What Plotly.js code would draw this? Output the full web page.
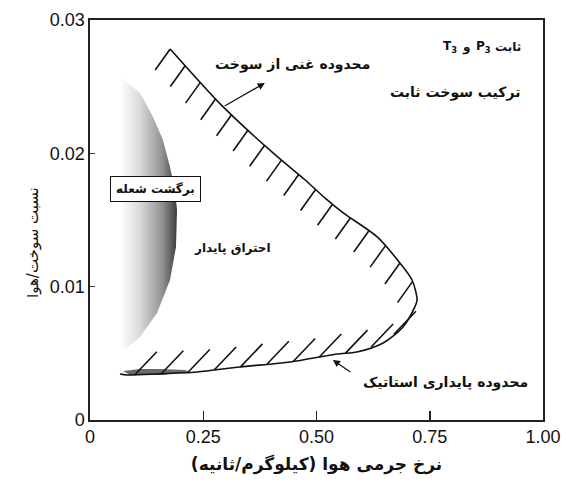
<!DOCTYPE html>
<html>
<head>
<meta charset="utf-8">
<script src="https://cdn.plot.ly/plotly-3.0.1.min.js"></script>
<style>body{margin:0;background:#fff;}#chart{width:566px;height:488px;}</style>
</head>
<body>
<div id="chart"></div>
<script>
// Stability loop (air mass flow, fuel/air ratio), from upper-left end, around the nose, to lower-left end
var loopX = [0.177, 0.294, 0.404, 0.475, 0.521, 0.559, 0.634, 0.684, 0.711, 0.722, 0.717, 0.691, 0.647, 0.589, 0.545, 0.442, 0.331, 0.236, 0.148, 0.082, 0.066];
var loopY = [0.02783, 0.02348, 0.02003, 0.01800, 0.01658, 0.01553, 0.01373, 0.01178, 0.01050, 0.00900, 0.00848, 0.00698, 0.00578, 0.00510, 0.00495, 0.00435, 0.00398, 0.00360, 0.00345, 0.00338, 0.00345];
var noseIndex = 9;

// Flashback (blow-back) region
var flashX = [0.0706, 0.1104, 0.1391, 0.1611, 0.1766, 0.1876, 0.1921, 0.1898, 0.1766, 0.1479, 0.1104, 0.0817, 0.0706, 0.0684, 0.0662, 0.0662, 0.0684, 0.0706];
var flashY = [0.02565, 0.02453, 0.02273, 0.02100, 0.01898, 0.01725, 0.01575, 0.01298, 0.01050, 0.00803, 0.00623, 0.00540, 0.00563, 0.00900, 0.01650, 0.02250, 0.02475, 0.02565];
// Dark sliver under the loop
var sliverX = [0.0728, 0.1104, 0.1545, 0.2097, 0.2208, 0.1545, 0.0883, 0.0728];
var sliverY = [0.003675, 0.003825, 0.003825, 0.00375, 0.0036, 0.003375, 0.003375, 0.003675];

var xTickVals = [0, 0.25, 0.5, 0.75, 1.0];
var xTickText = ['0', '0.25', '0.50', '0.75', '1.00'];
var yTickVals = [0, 0.01, 0.02, 0.03];
var yTickText = ['0', '0.01', '0.02', '0.03'];

var W = 566, H = 488, ML = 90, MR = 23, MT = 20, MB = 68;
var xMax = 1.0, yMax = 0.03;
var pw = W - ML - MR, ph = H - MT - MB;
function toPx(x, y) { return [ML + x / xMax * pw, MT + ph - y / yMax * ph]; }
function toData(px, py) { return [(px - ML) / pw * xMax, (MT + ph - py) / ph * yMax]; }

// hatch ticks sampled along a polyline at a fixed pixel spacing
function hatches(xs, ys, start, step, count, dpx, dpy) {
  var pts = [];
  for (var i = 0; i < xs.length; i++) pts.push(toPx(xs[i], ys[i]));
  var hx = [], hy = [];
  var target = start, acc = 0, n = 0;
  for (var k = 0; k < pts.length - 1 && n < count; k++) {
    var a = pts[k], b = pts[k + 1];
    var seg = Math.hypot(b[0] - a[0], b[1] - a[1]);
    while (acc + seg >= target && n < count) {
      var t = (target - acc) / seg;
      var px = a[0] + t * (b[0] - a[0]), py = a[1] + t * (b[1] - a[1]);
      var p0 = toData(px, py), p1 = toData(px + dpx, py + dpy);
      hx.push(p0[0], p1[0], null); hy.push(p0[1], p1[1], null);
      target += step; n++;
    }
    acc += seg;
  }
  return {x: hx, y: hy};
}
// upper branch: from top end towards nose, ticks go down-left
var up = hatches(loopX.slice(0, noseIndex + 1), loopY.slice(0, noseIndex + 1), 0, 22.5, 17, -15, 21);
// lower branch: left end to nose, ticks go up-right
var low = hatches(loopX.slice(noseIndex).reverse(), loopY.slice(noseIndex).reverse(), 15, 26.5, 11, 22, -23);

var traces = [
  {x: flashX, y: flashY, mode: 'lines', fill: 'toself', line: {width: 0, color: 'rgba(0,0,0,0)'},
   fillgradient: {type: 'horizontal', colorscale: [[0, '#ffffff'], [0.35, '#dadada'], [0.75, '#909090'], [1, '#3c3c3c']]},
   hoverinfo: 'skip', showlegend: false},
  {x: sliverX, y: sliverY, mode: 'lines', fill: 'toself', fillcolor: '#6a6a6a', line: {width: 0, color: 'rgba(0,0,0,0)'}, hoverinfo: 'skip', showlegend: false},
  {x: loopX, y: loopY, mode: 'lines', line: {color: '#111', width: 1.6, shape: 'spline', smoothing: 0.8}, showlegend: false},
  {x: up.x, y: up.y, mode: 'lines', line: {color: '#111', width: 1.6}, connectgaps: false, showlegend: false},
  {x: low.x, y: low.y, mode: 'lines', line: {color: '#111', width: 1.6}, connectgaps: false, showlegend: false}
];

var fa = 'DejaVu Sans, sans-serif';
function px2x(px) { return (px - ML) / pw * xMax; }
function py2y(py) { return (MT + ph - py) / ph * yMax; }
var tf = {family: fa, size: 12, color: '#111'};
var layout = {
  width: W, height: H,
  margin: {l: ML, r: MR, t: MT, b: MB},
  paper_bgcolor: '#fff', plot_bgcolor: '#fff',
  showlegend: false,
  xaxis: {range: [0, xMax], tickvals: xTickVals, ticktext: xTickText, ticks: 'inside', ticklen: 9, tickwidth: 1.5, tickcolor: '#222',
    showline: true, mirror: true, linecolor: '#222', linewidth: 1.6, showgrid: false, zeroline: false,
    tickfont: {family: 'Liberation Sans, Arial, sans-serif', size: 18, color: '#111'},
    title: {text: '<b>نرخ جرمی هوا (کیلوگرم/ثانیه)</b>', font: {family: fa, size: 17, color: '#111'}, standoff: 12}},
  yaxis: {range: [0, yMax], tickvals: yTickVals, ticktext: yTickText, ticks: 'inside', ticklen: 5, tickwidth: 1.2, tickcolor: '#444',
    showline: true, mirror: true, linecolor: '#222', linewidth: 1.6, showgrid: false, zeroline: false,
    tickfont: {family: 'Liberation Sans, Arial, sans-serif', size: 18, color: '#111'}},
  annotations: [
    {x: (22 - ML) / pw, y: (MT + ph - 243) / ph, xref: 'paper', yref: 'paper', text: 'نسبت سوخت/هوا', textangle: -90, showarrow: false, font: {family: fa, size: 15, color: '#111'}},
    {x: 0.448, y: 0.02663, xref: 'x', yref: 'y', text: '<b>محدوده غنی از سوخت</b>', showarrow: false, font: {family: fa, size: 14, color: '#111'}},
    {x: 0.386, y: 0.02528, ax: 0.294, ay: 0.02348, xref: 'x', yref: 'y', axref: 'x', ayref: 'y', text: '', showarrow: true, arrowhead: 2, arrowsize: 1.2, arrowwidth: 1.2, arrowcolor: '#111'},
    // "T3 و P3 ثابت" built from pieces, left to right
    {x: px2x(441), y: py2y(47), xref: 'x', yref: 'y', xanchor: 'left', text: '<b>T<sub>3</sub></b>', showarrow: false, font: tf},
    {x: px2x(466), y: py2y(47), xref: 'x', yref: 'y', xanchor: 'center', text: '<b>و</b>', showarrow: false, font: tf},
    {x: px2x(474), y: py2y(47), xref: 'x', yref: 'y', xanchor: 'left', text: '<b>P<sub>3</sub></b>', showarrow: false, font: tf},
    {x: px2x(523), y: py2y(47), xref: 'x', yref: 'y', xanchor: 'right', text: '<b>ثابت</b>', showarrow: false, font: tf},
    {x: 0.954, y: 0.0246, xref: 'x', yref: 'y', xanchor: 'right', text: '<b>ترکیب سوخت ثابت</b>', showarrow: false, font: {family: fa, size: 14, color: '#111'}},
    {x: 0.1435, y: 0.01733, xref: 'x', yref: 'y', text: '<b>برگشت شعله</b>', showarrow: false, bgcolor: '#fff', bordercolor: '#111', borderwidth: 1, borderpad: 5, font: {family: fa, size: 12, color: '#111'}},
    {x: px2x(232), y: 0.0129, xref: 'x', yref: 'y', text: '<b>احتراق پایدار</b>', showarrow: false, font: {family: fa, size: 12, color: '#111'}},
    {x: 0.784, y: 0.00285, xref: 'x', yref: 'y', text: '<b>محدوده پایداری استاتیک</b>', showarrow: false, font: {family: fa, size: 14, color: '#111'}},
    {x: 0.536, y: 0.0045, ax: 0.578, ay: 0.00353, xref: 'x', yref: 'y', axref: 'x', ayref: 'y', text: '', showarrow: true, arrowhead: 2, arrowsize: 1.2, arrowwidth: 1.2, arrowcolor: '#111'}
  ]
};
Plotly.newPlot('chart', traces, layout, {displayModeBar: false, staticPlot: true});
</script>
</body>
</html>
